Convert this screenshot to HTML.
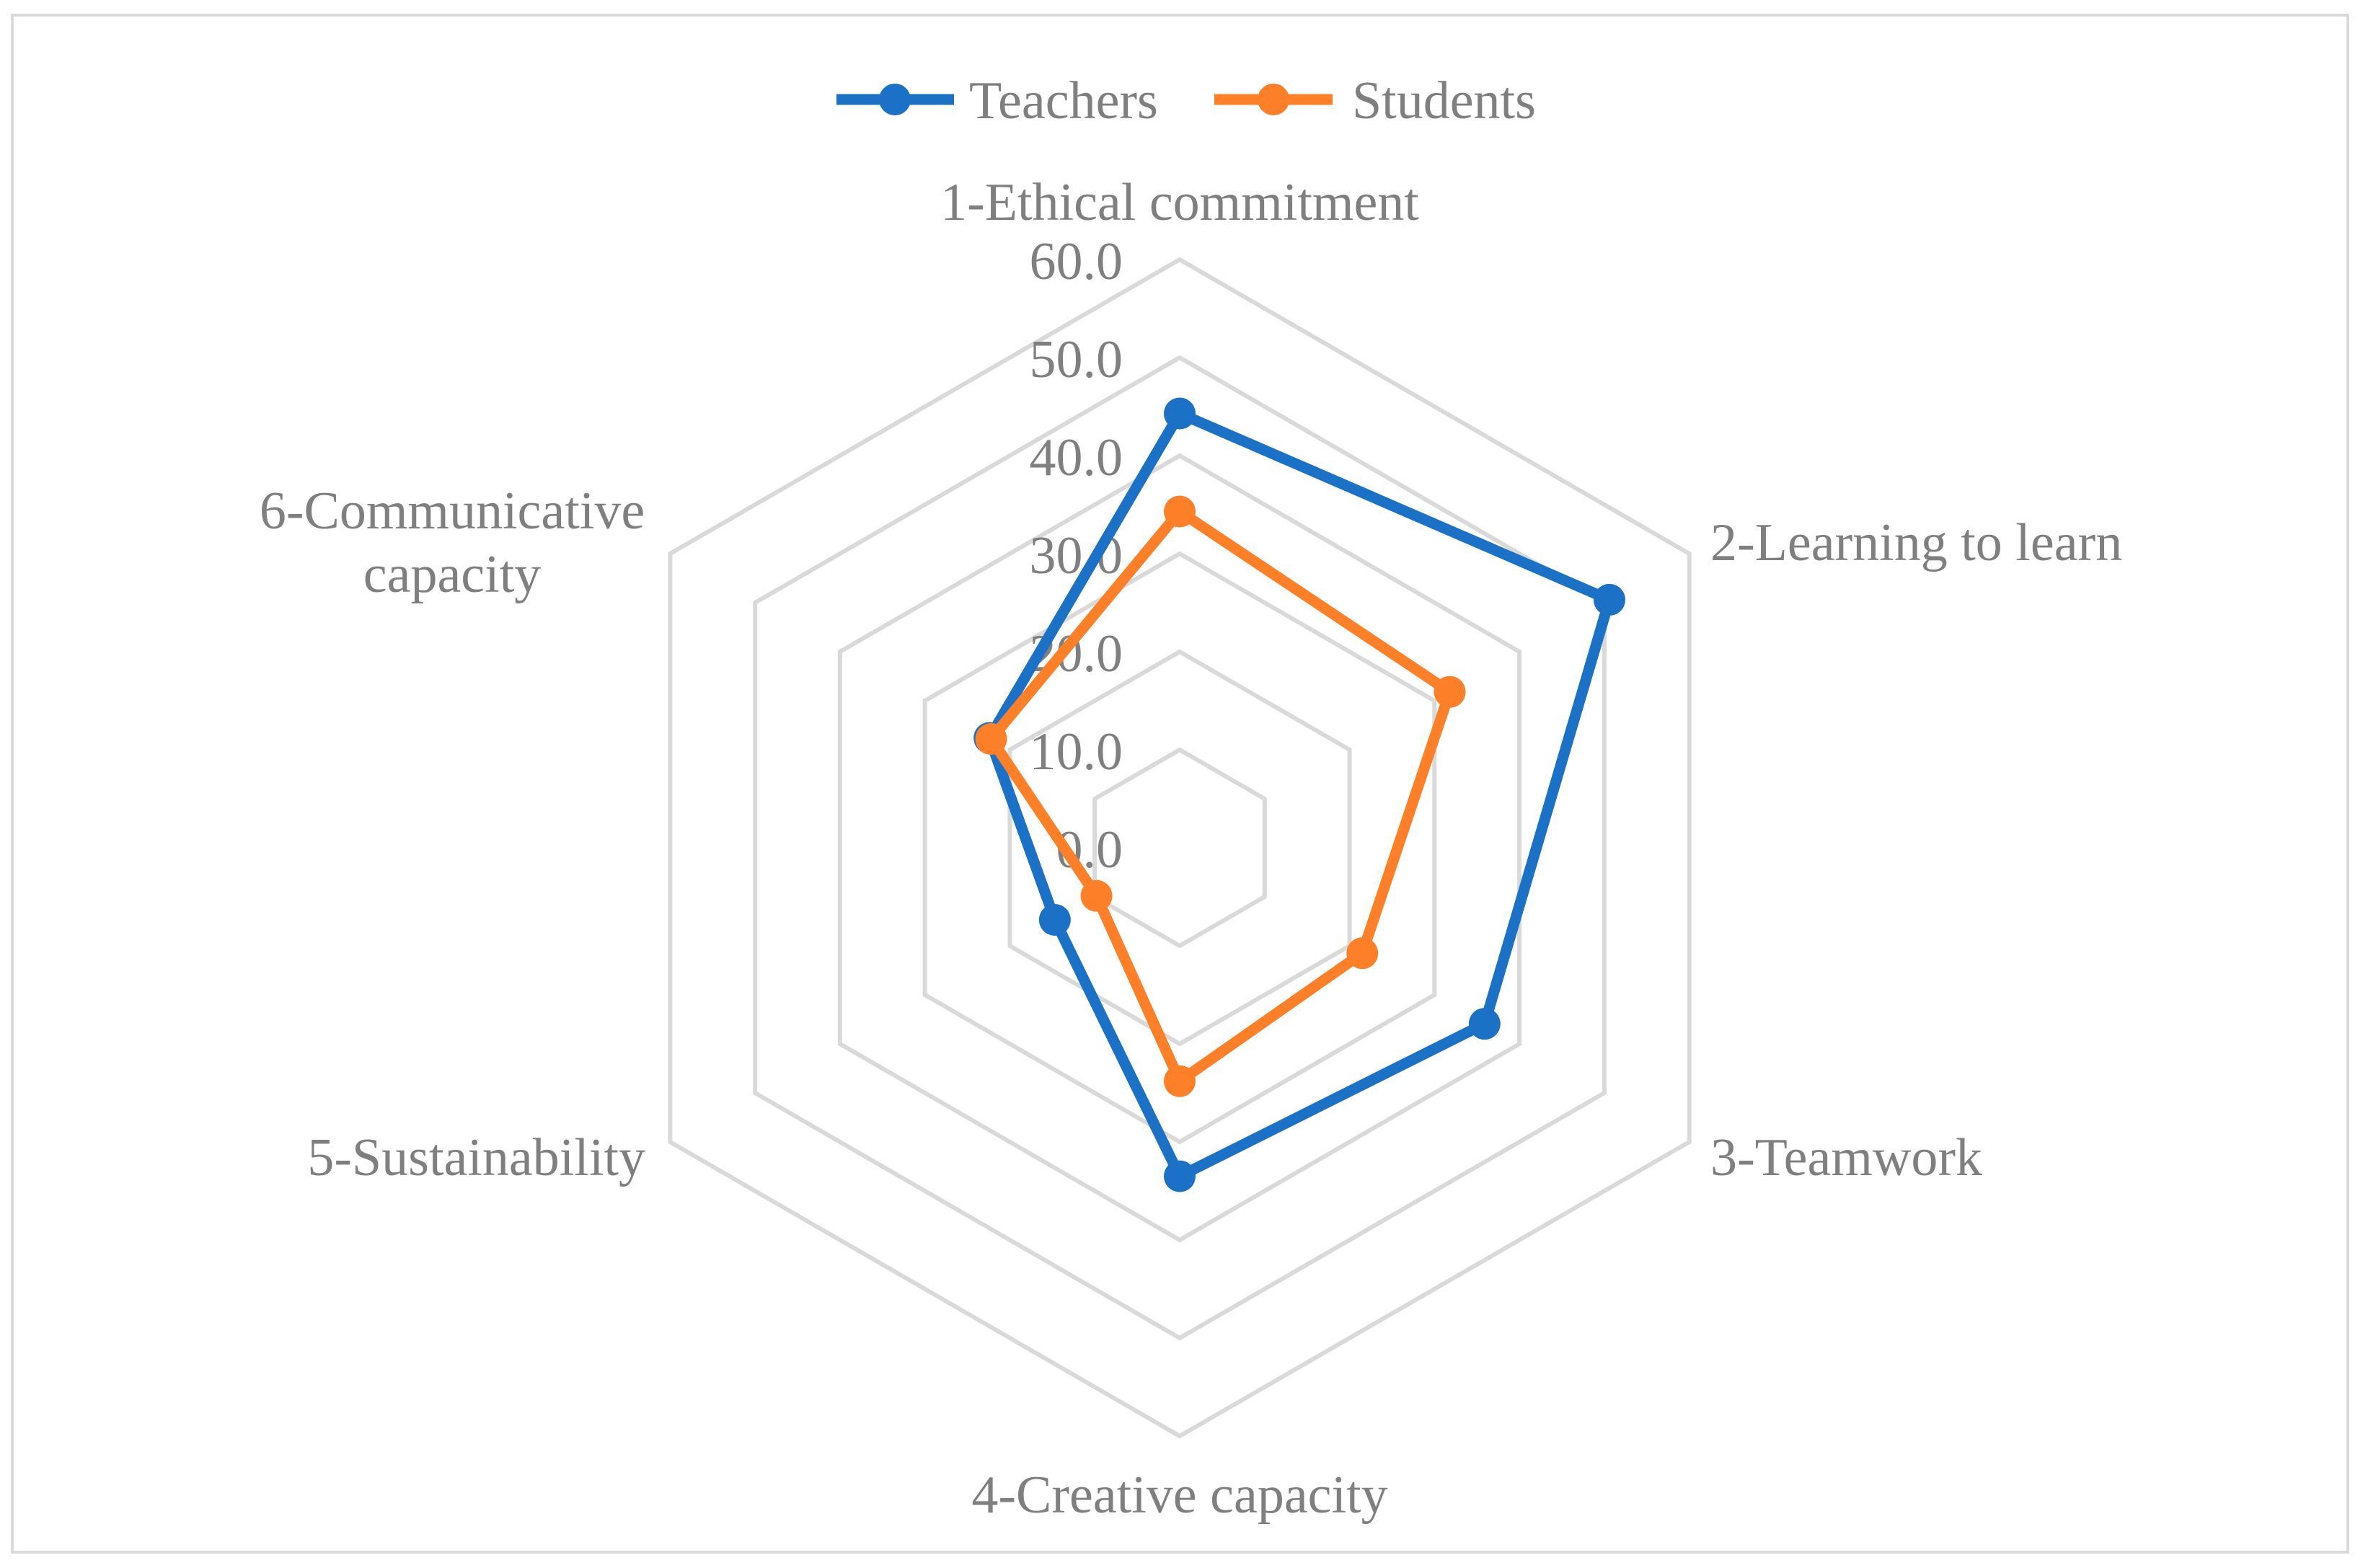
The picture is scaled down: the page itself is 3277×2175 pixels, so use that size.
<!DOCTYPE html>
<html><head><meta charset="utf-8"><style>
html,body{margin:0;padding:0;background:#fff}
svg{display:block;font-family:"Liberation Serif",serif}
</style></head><body>
<svg id="chart" width="3277" height="2175" viewBox="0 0 3277 2175" xmlns="http://www.w3.org/2000/svg">
<rect x="17" y="21" width="3239" height="2132" fill="#fff" stroke="#d9d9d9" stroke-width="4"/>
<g id="grid"></g>
<g id="ticks"></g>
<g id="cats"></g>
<g id="series"></g>
<g>
  <g>
    <line x1="1160" y1="138" x2="1323" y2="138" stroke="#1a71c6" stroke-width="15"/>
    <circle cx="1241" cy="138" r="22" fill="#1a71c6"/>
    <text x="1344" y="164" font-size="74" fill="#7f7f7f">Teachers</text>
  </g>
  <g>
    <line x1="1684" y1="138" x2="1848" y2="138" stroke="#fd7f27" stroke-width="15"/>
    <circle cx="1766" cy="138" r="22" fill="#fd7f27"/>
    <text x="1875" y="164" font-size="74" fill="#7f7f7f">Students</text>
  </g>
</g>
</svg>
<script>
const categories = ["1-Ethical commitment","2-Learning to learn","3-Teamwork","4-Creative capacity","5-Sustainability","6-Communicative capacity"];
const teachers = [44.3, 50.6, 35.9, 33.5, 14.7, 22.4];
const students = [34.3, 31.8, 21.5, 23.8, 9.8, 22.2];
const tickValues = [0, 10, 20, 30, 40, 50, 60];
const tickLabels = ["0.0","10.0","20.0","30.0","40.0","50.0","60.0"];

const NS = "http://www.w3.org/2000/svg";
const cx = 1636, cy = 1176, R = 816, maxV = 60;
function rScale(v){ return v / maxV * R; }
function angle(i){ return -Math.PI/2 + i * 2*Math.PI/categories.length; }
function pt(i, v){ const a = angle(i), r = rScale(v); return [cx + r*Math.cos(a), cy + r*Math.sin(a)]; }
function mk(tag, attrs, parent){ const e = document.createElementNS(NS, tag); for (const k in attrs) e.setAttribute(k, attrs[k]); parent.appendChild(e); return e; }

const grid = document.getElementById('grid');
tickValues.forEach(function(t){
  const pts = categories.map(function(_, i){ return pt(i, t).join(','); }).join(' ');
  const p = mk('polygon', {points: pts, fill: 'none', stroke: '#d9d9d9', 'stroke-width': 6}, grid);
  
  
});

const ticks = document.getElementById('ticks');
tickValues.forEach(function(t, k){
  const el = mk('text', {x: 1557, y: cy - rScale(t) + 27, 'text-anchor': 'end', 'font-size': 74, fill: '#7f7f7f'}, ticks);
  el.textContent = tickLabels[k];
  
  
});

const cats = document.getElementById('cats');
const labelPos = [
  {x:1636, y:305, a:'middle'},
  {x:2372, y:777, a:'start'},
  {x:2372, y:1630, a:'start'},
  {x:1636, y:2098, a:'middle'},
  {x:895, y:1630, a:'end'},
  {x:627, y:733, a:'middle'}
];
categories.forEach(function(c, i){
  const lp = labelPos[i];
  const el = mk('text', {x: lp.x, y: lp.y, 'text-anchor': lp.a, 'font-size': 74, fill: '#7f7f7f'}, cats);
  
  
  if (i === 5) {
    const parts = c.split(' ');
    const t1 = mk('tspan', {x: lp.x, dy: 0}, el); t1.textContent = parts[0];
    const t2 = mk('tspan', {x: lp.x, dy: 88}, el); t2.textContent = parts[1];
  } else el.textContent = c;
});

const series = document.getElementById('series');
function drawSeries(vals, color, name){
  const g = mk('g', {}, series);
  
  
  const pts = vals.map(function(v, i){ return pt(i, v).join(','); }).join(' ');
  const pl = mk('polygon', {points: pts, fill: 'none', stroke: color, 'stroke-width': 15, 'stroke-linejoin': 'round'}, g);
  
  
  vals.forEach(function(v, i){
    const p = pt(i, v);
    const c = mk('circle', {cx: p[0], cy: p[1], r: 22, fill: color}, g);
    
    
  });
}
drawSeries(teachers, '#1a71c6', 'teachers');
drawSeries(students, '#fd7f27', 'students');
</script>
</body></html>
